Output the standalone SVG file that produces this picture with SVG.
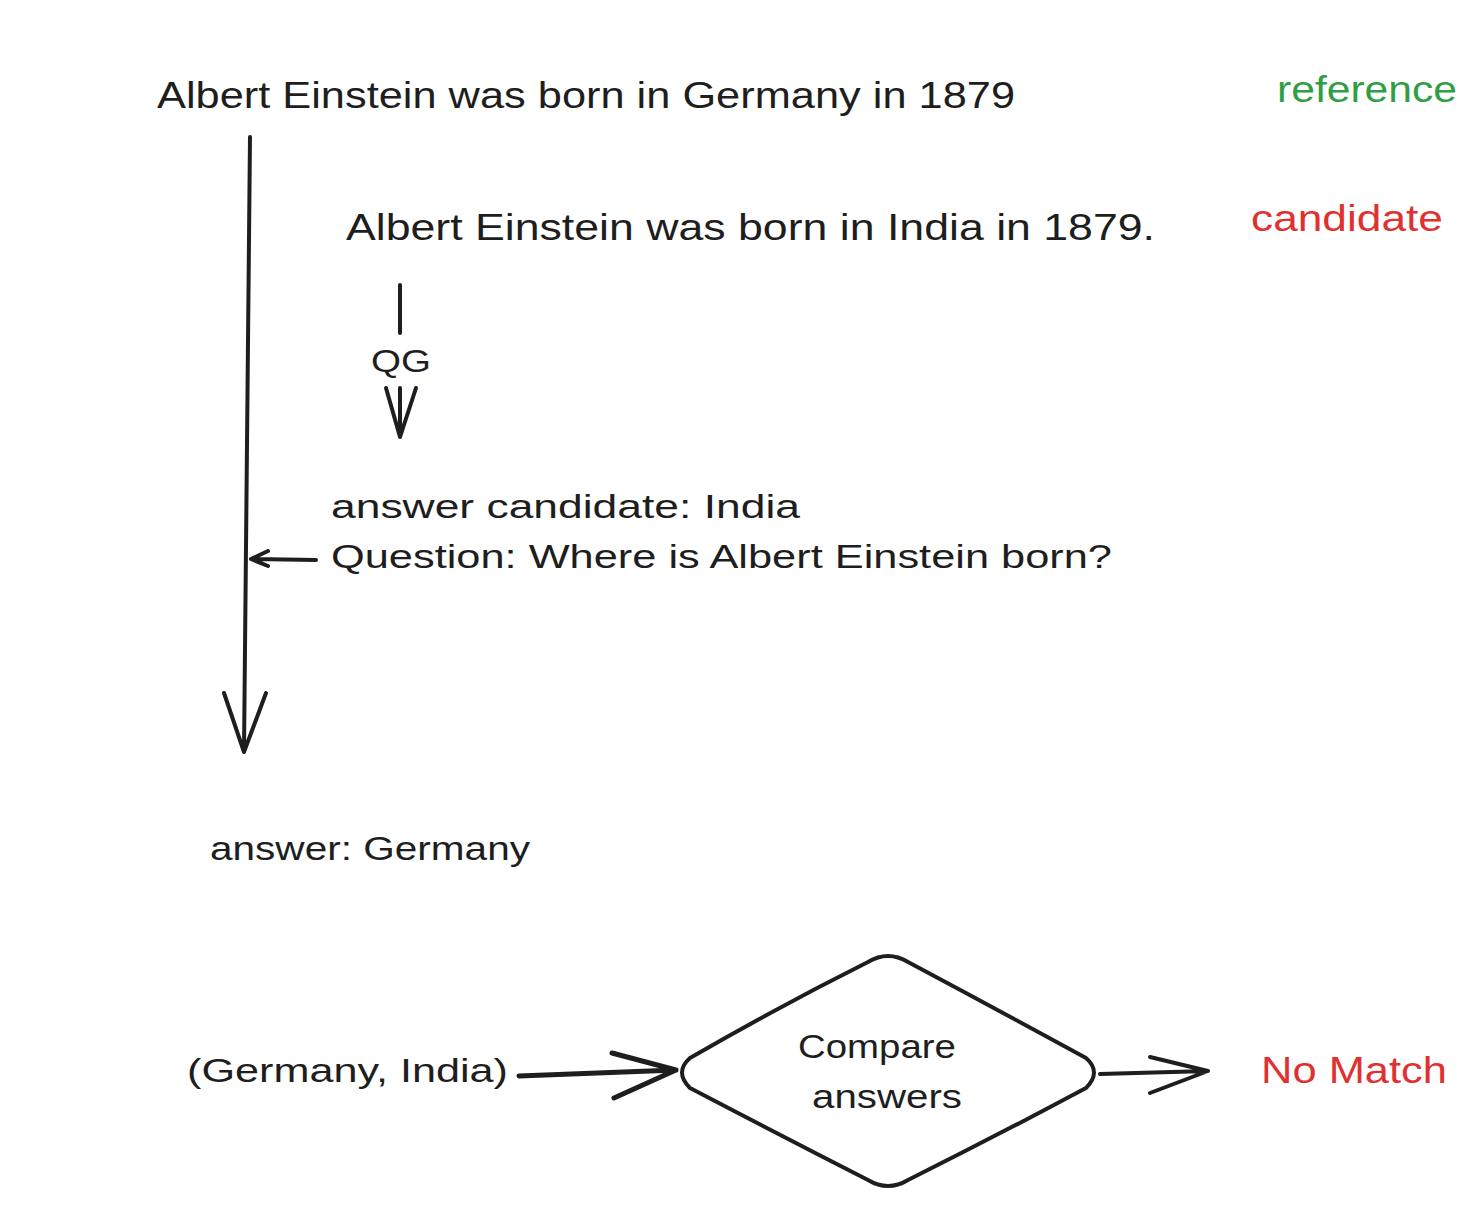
<svg xmlns="http://www.w3.org/2000/svg" width="1476" height="1213" viewBox="0 0 1476 1213">
<style>
text{font-family:"Liberation Sans","Open Sans",sans-serif;fill:#1e1e1e}
.big{font-size:36px}
.mid{font-size:33px}
.green{fill:#2f9e44}
.red{fill:#e03131}
.ln{stroke:#1e1e1e;stroke-width:4;fill:none;stroke-linecap:round;stroke-linejoin:round}
</style>
<rect width="1476" height="1213" fill="#ffffff"/>
<g id="n-reference-sentence"><text class="big" x="157" y="108" textLength="858" lengthAdjust="spacingAndGlyphs">Albert Einstein was born in Germany in 1879</text></g>
<g id="n-reference-label"><text class="big green" x="1277" y="102" textLength="180" lengthAdjust="spacingAndGlyphs">reference</text></g>
<g id="n-candidate-label"><text class="big red" x="1251" y="231" textLength="192" lengthAdjust="spacingAndGlyphs">candidate</text></g>
<g id="n-candidate-sentence"><text class="big" x="346" y="240" textLength="809" lengthAdjust="spacingAndGlyphs">Albert Einstein was born in India in 1879.</text></g>
<g id="n-qa"><text class="mid" x="331" y="518" textLength="469" lengthAdjust="spacingAndGlyphs">answer candidate: India</text>
<text class="mid" x="331" y="568" textLength="781" lengthAdjust="spacingAndGlyphs">Question: Where is Albert Einstein born?</text></g>
<g id="n-answer"><text class="mid" x="210" y="860" textLength="320" lengthAdjust="spacingAndGlyphs">answer: Germany</text></g>
<g id="n-pair"><text class="mid" x="187" y="1082" textLength="321" lengthAdjust="spacingAndGlyphs">(Germany, India)</text></g>
<g id="n-compare">
<path class="ln" d="M690 1058 Q780 1006 868 962 Q888 950 908 962 Q998 1010 1086 1058 Q1102 1072 1086 1088 Q996 1136 908 1180 Q888 1192 868 1180 Q778 1134 690 1088 Q674 1072 690 1058 Z"/>
<text class="mid" x="877" y="1058" text-anchor="middle" textLength="158" lengthAdjust="spacingAndGlyphs">Compare</text>
<text class="mid" x="887" y="1108" text-anchor="middle" textLength="150" lengthAdjust="spacingAndGlyphs">answers</text>
</g>
<g id="n-result"><text class="big red" x="1261" y="1083" textLength="186" lengthAdjust="spacingAndGlyphs">No Match</text></g>
<g id="connectors">
<path class="ln" d="M250 137 L244 752 M224 693 L244 752 L266 693"/>
<path class="ln" d="M400 285 L400 333"/>
<text x="401" y="372" text-anchor="middle" style="font-size:31px" textLength="60" lengthAdjust="spacingAndGlyphs">QG</text>
<path class="ln" d="M400 388 L400 437 M386 388 L400 437 L416 388"/>
<path class="ln" d="M316 560 L251 559 M268 551 L251 559 L268 566"/>
<path class="ln" style="stroke-width:5" d="M519 1076 L676 1070 M612 1053 L676 1070 L614 1098"/>
<path class="ln" d="M1100 1074 L1208 1071 M1150 1057 L1208 1071 L1150 1093"/>
</g>
</svg>
